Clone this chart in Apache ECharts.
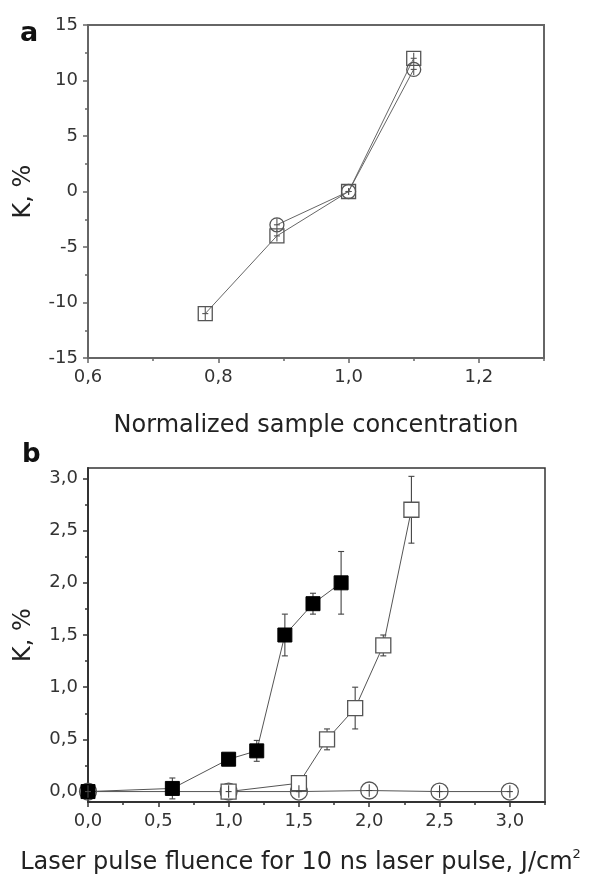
<!DOCTYPE html>
<html>
<head>
<meta charset="utf-8">
<script src="https://cdn.jsdelivr.net/npm/echarts@6/dist/echarts.min.js"></script>
<style>html,body{margin:0;padding:0;background:#fff;}#c{width:602px;height:886px;}</style>
</head>
<body>
<div id="c"></div>
<script>
// ---- Panel a data ----
const aSqX = [0.78, 0.89, 1.0, 1.1];
const aSqY = [-11, -4, 0, 12];
const aSqErr = [0.6, 0.5, 0.3, 0.5];
const aCirX = [0.89, 1.0, 1.1];
const aCirY = [-3, 0, 11];
const aCirErr = [0.6, 0.3, 0.5];
const aXTicks = [0.6, 0.8, 1.0, 1.2];
const aXMinor = [0.7, 0.9, 1.1, 1.3];
const aYTicks = [-15, -10, -5, 0, 5, 10, 15];
const aYMinor = [-12.5, -7.5, -2.5, 2.5, 7.5, 12.5];

// ---- Panel b data ----
const bFillX = [0.0, 0.6, 1.0, 1.2, 1.4, 1.6, 1.8];
const bFillY = [0.0, 0.03, 0.31, 0.39, 1.5, 1.8, 2.0];
const bFillErr = [0.0, 0.1, 0.03, 0.1, 0.2, 0.1, 0.3];
const bOpenX = [1.0, 1.5, 1.7, 1.9, 2.1, 2.3];
const bOpenY = [0.0, 0.08, 0.5, 0.8, 1.4, 2.7];
const bOpenErr = [0.06, 0.05, 0.1, 0.2, 0.1, 0.32];
const bCirX = [0.0, 1.0, 1.5, 2.0, 2.5, 3.0];
const bCirY = [0.0, 0.0, 0.0, 0.01, 0.0, 0.0];
const bCirErr = [0.06, 0.06, 0.06, 0.06, 0.06, 0.06];
const bXTicks = [0.0, 0.5, 1.0, 1.5, 2.0, 2.5, 3.0];
const bXMinor = [0.25, 0.75, 1.25, 1.75, 2.25, 2.75, 3.25];
const bYTicks = [0.0, 0.5, 1.0, 1.5, 2.0, 2.5, 3.0];
const bYMinor = [0.25, 0.75, 1.25, 1.75, 2.25, 2.75];

const FONT = 'DejaVu Sans, Liberation Sans, sans-serif';
const zip = (xs, ys) => xs.map((x, i) => [x, ys[i]]);
const zip3 = (xs, ys, es) => xs.map((x, i) => [x, ys[i], es[i]]);
const comma1 = v => (Math.round(v * 10) / 10).toFixed(1).replace('.', ',');

// kind: 'cap' -> I-shaped bar with caps, 'plus' -> small cross
function errSeries(data, xi, yi, color, kind) {
  return {
    type: 'custom', xAxisIndex: xi, yAxisIndex: yi, z: kind === 'plus' ? 5 : 1,
    data: data,
    renderItem: function (params, api) {
      const x = api.value(0), y = api.value(1), e = api.value(2);
      if (!e) return null;
      const top = api.coord([x, y + e]);
      const bot = api.coord([x, y - e]);
      const mid = api.coord([x, y]);
      const st = { stroke: color, lineWidth: 1.1 };
      const kids = [{ type: 'line', shape: { x1: top[0], y1: top[1], x2: bot[0], y2: bot[1] }, style: st }];
      if (kind === 'plus') {
        kids.push({ type: 'line', shape: { x1: mid[0] - 3, y1: mid[1], x2: mid[0] + 3, y2: mid[1] }, style: st });
      } else {
        const w = 3;
        kids.push({ type: 'line', shape: { x1: top[0] - w, y1: top[1], x2: top[0] + w, y2: top[1] }, style: st });
        kids.push({ type: 'line', shape: { x1: bot[0] - w, y1: bot[1], x2: bot[0] + w, y2: bot[1] }, style: st });
      }
      return { type: 'group', children: kids };
    }
  };
}

function mainAxis(grid, pos, min, max, ticks, fmt, axisColor, extra) {
  return Object.assign({
    type: 'value', gridIndex: grid, position: pos, min: min, max: max,
    axisLine: { show: true, onZero: false, lineStyle: { color: axisColor, width: 2 } },
    axisTick: { show: true, inside: false, length: 5, customValues: ticks, lineStyle: { color: axisColor, width: 1.5 } },
    axisLabel: { show: true, customValues: ticks, formatter: fmt, color: '#333', fontSize: 18, fontFamily: FONT, margin: 10 },
    splitLine: { show: false },
    nameTextStyle: { color: '#222', fontFamily: FONT }
  }, extra || {});
}
function minorAxis(grid, pos, min, max, ticks, axisColor) {
  return {
    type: 'value', gridIndex: grid, position: pos, min: min, max: max,
    axisLine: { show: false, onZero: false },
    axisTick: { show: true, inside: false, length: 3, customValues: ticks, lineStyle: { color: axisColor, width: 1.5 } },
    axisLabel: { show: false },
    splitLine: { show: false }
  };
}

const cA = '#666', cB = '#333';
const option = {
  animation: false,
  backgroundColor: '#fff',
  grid: [
    { left: 88, top: 25, width: 456, height: 333, show: true, borderColor: cA, borderWidth: 2, backgroundColor: 'transparent' },
    { left: 88, top: 468, width: 457, height: 334, show: true, borderColor: cB, borderWidth: 1.5, backgroundColor: 'transparent' }
  ],
  xAxis: [
    mainAxis(0, 'bottom', 0.6, 1.3, aXTicks, comma1, cA, {
      name: 'Normalized sample concentration', nameLocation: 'middle', nameGap: 56,
      nameTextStyle: { color: '#222', fontFamily: FONT, fontSize: 24 }
    }),
    minorAxis(0, 'bottom', 0.6, 1.3, aXMinor, cA),
    mainAxis(1, 'bottom', 0, 3.25, bXTicks, comma1, cB, {
      name: 'Laser pulse fluence for 10 ns laser pulse, J/cm{sup|2}', nameLocation: 'middle', nameGap: 46,
      nameTextStyle: { color: '#222', fontFamily: FONT, fontSize: 24, padding: [0, 32, 0, 0],
        rich: { sup: { fontSize: 13, fontFamily: FONT, color: '#222', verticalAlign: 'bottom', padding: [0, 0, 16, 0] } } }
    }),
    minorAxis(1, 'bottom', 0, 3.25, bXMinor, cB)
  ],
  yAxis: [
    mainAxis(0, 'left', -15, 15, aYTicks, v => String(v), cA, {
      name: 'K, %', nameLocation: 'middle', nameGap: 52,
      nameTextStyle: { color: '#222', fontFamily: FONT, fontSize: 24 }
    }),
    minorAxis(0, 'left', -15, 15, aYMinor, cA),
    mainAxis(1, 'left', -0.1, 3.1, bYTicks, comma1, cB, {
      name: 'K, %', nameLocation: 'middle', nameGap: 52,
      nameTextStyle: { color: '#222', fontFamily: FONT, fontSize: 24 }
    }),
    minorAxis(1, 'left', -0.1, 3.1, bYMinor, cB)
  ],
  graphic: [
    { type: 'text', left: 20, top: 20, style: { text: 'a', font: 'bold 27px ' + FONT, fill: '#111' } },
    { type: 'text', left: 22, top: 442, style: { text: 'b', font: 'bold 26px ' + FONT, fill: '#111' } }
  ],
  series: [
    errSeries(zip3(aSqX, aSqY, aSqErr), 0, 0, '#555', 'plus'),
    errSeries(zip3(aCirX, aCirY, aCirErr), 0, 0, '#555', 'plus'),
    {
      type: 'line', xAxisIndex: 0, yAxisIndex: 0, data: zip(aSqX, aSqY), z: 3,
      symbol: 'rect', symbolSize: 14, showAllSymbol: true,
      lineStyle: { color: '#666', width: 1 },
      itemStyle: { color: 'transparent', borderColor: '#555', borderWidth: 1.3 }
    },
    {
      type: 'line', xAxisIndex: 0, yAxisIndex: 0, data: zip(aCirX, aCirY), z: 3,
      symbol: 'circle', symbolSize: 14, showAllSymbol: true,
      lineStyle: { color: '#666', width: 1 },
      itemStyle: { color: 'transparent', borderColor: '#555', borderWidth: 1.3 }
    },
    errSeries(zip3(bCirX, bCirY, bCirErr), 2, 2, '#444', 'plus'),
    errSeries(zip3(bFillX, bFillY, bFillErr), 2, 2, '#444', 'cap'),
    errSeries(zip3(bOpenX, bOpenY, bOpenErr), 2, 2, '#444', 'cap'),
    {
      type: 'line', xAxisIndex: 2, yAxisIndex: 2, data: zip(bCirX, bCirY), z: 3,
      symbol: 'circle', symbolSize: 17, showAllSymbol: true,
      lineStyle: { color: '#555', width: 1 },
      itemStyle: { color: 'transparent', borderColor: '#555', borderWidth: 1.3 }
    },
    {
      type: 'line', xAxisIndex: 2, yAxisIndex: 2, data: zip(bFillX, bFillY), z: 4,
      symbol: 'rect', symbolSize: 14, showAllSymbol: true,
      lineStyle: { color: '#555', width: 1 },
      itemStyle: { color: '#000', borderColor: '#000', borderWidth: 1 }
    },
    {
      type: 'line', xAxisIndex: 2, yAxisIndex: 2, data: zip(bOpenX, bOpenY), z: 4,
      symbol: 'rect', symbolSize: 15, showAllSymbol: true,
      lineStyle: { color: '#555', width: 1 },
      itemStyle: { color: '#fff', borderColor: '#555', borderWidth: 1.3 }
    }
  ]
};
const chart = echarts.init(document.getElementById('c'), null, { renderer: 'canvas' });
chart.setOption(option);
</script>
</body>
</html>
